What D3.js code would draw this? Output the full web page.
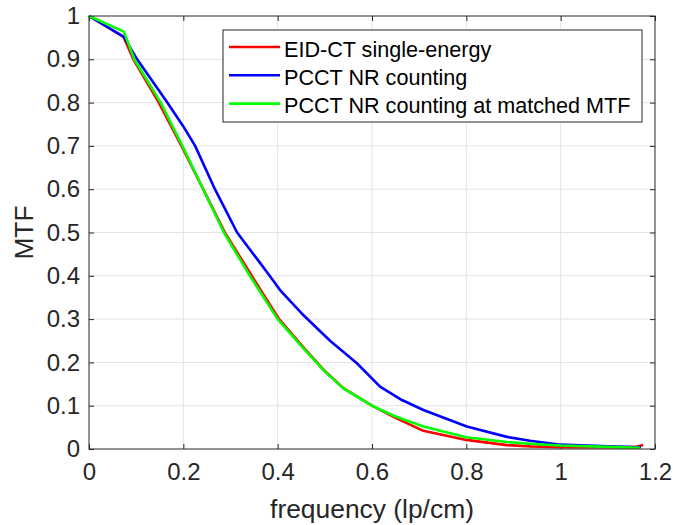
<!DOCTYPE html>
<html>
<head>
<meta charset="utf-8">
<script src="https://cdn.jsdelivr.net/npm/d3@7"></script>
<style>
  html, body { margin: 0; padding: 0; background: #fff; }
  svg { display: block; font-family: "Liberation Sans", Arial, Helvetica, sans-serif; }
</style>
</head>
<body>
<svg id="chart" width="673" height="525"></svg>
<script>
// ---- data ----
const seriesNames = ["EID-CT single-energy", "PCCT NR counting", "PCCT NR counting at matched MTF"];
const seriesColors = ["#ff0000", "#0000ff", "#00ff00"];

const freqEID = [0, 0.073, 0.094, 0.148, 0.196, 0.242, 0.288, 0.345, 0.403, 0.456, 0.50, 0.54, 0.60, 0.65, 0.709, 0.80, 0.886, 0.935, 1.0, 1.10, 1.16, 1.175];
const mtfEID  = [1, 0.952, 0.90, 0.80, 0.70, 0.60, 0.50, 0.40, 0.30, 0.233, 0.180, 0.140, 0.100, 0.072, 0.042, 0.021, 0.009, 0.006, 0.004, 0.004, 0.005, 0.009];

const freqPC = [0, 0.074, 0.102, 0.166, 0.200, 0.225, 0.267, 0.314, 0.359, 0.383, 0.405, 0.451, 0.511, 0.568, 0.617, 0.660, 0.709, 0.801, 0.886, 0.935, 1.0, 1.10, 1.17];
const mtfPC  = [1, 0.952, 0.90, 0.80, 0.745, 0.70, 0.60, 0.50, 0.435, 0.40, 0.367, 0.313, 0.250, 0.198, 0.144, 0.115, 0.090, 0.052, 0.028, 0.019, 0.010, 0.006, 0.004];

const freqPCm = [0, 0.074, 0.096, 0.152, 0.198, 0.242, 0.286, 0.341, 0.400, 0.454, 0.497, 0.539, 0.60, 0.65, 0.709, 0.80, 0.886, 0.935, 1.0, 1.10, 1.168];
const mtfPCm  = [1, 0.964, 0.90, 0.80, 0.70, 0.60, 0.50, 0.40, 0.30, 0.233, 0.182, 0.140, 0.100, 0.075, 0.052, 0.027, 0.016, 0.012, 0.008, 0.005, 0.003];

const xTicks = [0, 0.2, 0.4, 0.6, 0.8, 1, 1.2];
const yTicks = [0, 0.1, 0.2, 0.3, 0.4, 0.5, 0.6, 0.7, 0.8, 0.9, 1];
const xLabel = "frequency (lp/cm)";
const yLabel = "MTF";

// ---- layout ----
const svg = d3.select("#chart");
const L = 89, R = 655, T = 16, B = 449;
const x = d3.scaleLinear().domain([0, 1.2]).range([L, R]);
const y = d3.scaleLinear().domain([0, 1]).range([B, T]);
const axisColor = "#262626";
const gridColor = "#e3e3e3";

// grid
svg.append("g").selectAll("line.gx").data(xTicks.filter(d => d > 0 && d < 1.2)).join("line")
  .attr("x1", d => x(d)).attr("x2", d => x(d)).attr("y1", T).attr("y2", B)
  .attr("stroke", gridColor).attr("stroke-width", 1);
svg.append("g").selectAll("line.gy").data(yTicks.filter(d => d > 0 && d < 1)).join("line")
  .attr("x1", L).attr("x2", R).attr("y1", d => y(d)).attr("y2", d => y(d))
  .attr("stroke", gridColor).attr("stroke-width", 1);

// axes with D3 (inward ticks)
const fmt = d => String(d);
const xAxis = svg.append("g").attr("transform", `translate(0,${B})`)
  .call(d3.axisBottom(x).tickValues(xTicks).tickFormat(fmt).tickSizeInner(-5).tickSizeOuter(0).tickPadding(14));
const yAxis = svg.append("g").attr("transform", `translate(${L},0)`)
  .call(d3.axisLeft(y).tickValues(yTicks).tickFormat(fmt).tickSizeInner(-5).tickSizeOuter(0).tickPadding(9));
const xAxisTop = svg.append("g").attr("transform", `translate(0,${T})`)
  .call(d3.axisTop(x).tickValues(xTicks).tickFormat("").tickSizeInner(-5).tickSizeOuter(0));
const yAxisRight = svg.append("g").attr("transform", `translate(${R},0)`)
  .call(d3.axisRight(y).tickValues(yTicks).tickFormat("").tickSizeInner(-5).tickSizeOuter(0));

[xAxis, yAxis, xAxisTop, yAxisRight].forEach(g => {
  g.select(".domain").remove();
  g.selectAll(".tick line").attr("stroke", axisColor).attr("stroke-width", 1);
  g.selectAll(".tick text").attr("fill", axisColor).attr("font-size", 24)
    .attr("font-family", "Liberation Sans, Arial, sans-serif");
});
xAxis.selectAll(".tick text").attr("dy", "0.71em");

// line series
const line = d3.line().x(d => x(d[0])).y(d => y(d[1]));
const series = [
  d3.zip(freqEID, mtfEID),
  d3.zip(freqPC, mtfPC),
  d3.zip(freqPCm, mtfPCm)
];
series.forEach((s, i) => {
  svg.append("path").datum(s).attr("d", line)
    .attr("fill", "none").attr("stroke", seriesColors[i])
    .attr("stroke-width", 2.6).attr("stroke-linejoin", "round");
});

// box
svg.append("rect").attr("x", L).attr("y", T).attr("width", R - L).attr("height", B - T)
  .attr("fill", "none").attr("stroke", axisColor).attr("stroke-width", 1);

// axis labels
svg.append("text").attr("x", (L + R) / 2).attr("y", 518).attr("text-anchor", "middle")
  .attr("font-size", 26.4).attr("fill", axisColor).text(xLabel);
svg.append("text").attr("transform", `translate(33,${(T + B) / 2}) rotate(-90)`)
  .attr("text-anchor", "middle").attr("font-size", 26.4).attr("fill", axisColor).text(yLabel);

// legend
const lg = svg.append("g");
lg.append("rect").attr("x", 223).attr("y", 30).attr("width", 419).attr("height", 92)
  .attr("fill", "#fff").attr("stroke", axisColor).attr("stroke-width", 1);
seriesNames.forEach((n, i) => {
  const cy = 47 + i * 28.3;
  lg.append("line").attr("x1", 229).attr("x2", 280).attr("y1", cy).attr("y2", cy)
    .attr("stroke", seriesColors[i]).attr("stroke-width", 2.6);
  lg.append("text").attr("x", 284).attr("y", cy + 9.5).attr("font-size", 21.6)
    .attr("fill", "#000").text(n);
});
</script>
</body>
</html>
